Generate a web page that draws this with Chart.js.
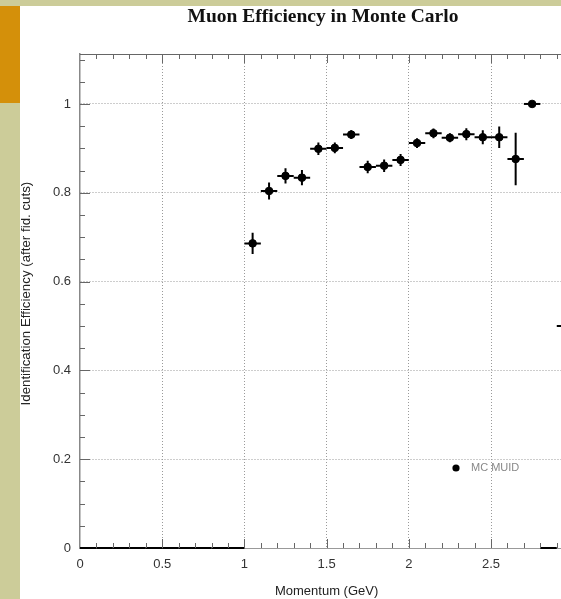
<!DOCTYPE html>
<html lang="en">
<head>
<meta charset="UTF-8">
<title>Muon Efficiency in Monte Carlo</title>
<script src="https://cdn.jsdelivr.net/npm/chart.js"></script>
<style>
  html, body { margin: 0; padding: 0; background: #fff; overflow: hidden; width: 561px; height: 599px; }
  .topbar { position: absolute; left: 0; top: 0; width: 561px; height: 6px; background: #cccc99; z-index: 2; }
  .sidebar { position: absolute; left: 0; top: 0; width: 20px; height: 599px; background: #cccc99; z-index: 2; }
  .accent { position: absolute; left: 0; top: 6px; width: 20px; height: 97px; background: #d4900a; z-index: 3; }
  h1 { position: absolute; top: 6px; left: 0; width: 646px; margin: 0; text-align: center;
       font: bold 19.5px/19.5px "Liberation Serif", "Times New Roman", serif; color: #111; z-index: 3; }
  .chart-box { position: absolute; left: 0; top: 0; width: 620px; height: 599px; }
</style>
</head>
<body>
<div class="topbar"></div>
<div class="sidebar"></div>
<div class="accent"></div>
<h1>Muon Efficiency in Monte Carlo</h1>
<div class="chart-box"><canvas id="effChart"></canvas></div>

<script>
// bin centres (GeV), 0.1 GeV wide bins
const momentum = [0.05, 0.15, 0.25, 0.35, 0.45, 0.55, 0.65, 0.75, 0.85, 0.95,
                  1.05, 1.15, 1.25, 1.35, 1.45, 1.55, 1.65, 1.75, 1.85, 1.95,
                  2.05, 2.15, 2.25, 2.35, 2.45, 2.55, 2.65, 2.75, 2.85, 2.95];
const efficiency = [0, 0, 0, 0, 0, 0, 0, 0, 0, 0,
                    0.686, 0.804, 0.838, 0.834, 0.899, 0.901, 0.931, 0.858, 0.861, 0.874,
                    0.912, 0.934, 0.924, 0.932, 0.925, 0.925, 0.876, 1.0, 0, 0.5];
const effError = [0, 0, 0, 0, 0, 0, 0, 0, 0, 0,
                  0.024, 0.019, 0.017, 0.017, 0.014, 0.012, 0.010, 0.014, 0.014, 0.0135,
                  0.011, 0.011, 0.010, 0.0135, 0.016, 0.024, 0.059, 0, 0, 0];
const binHalfWidth = 0.05;
const xTickLabels = [0, 0.5, 1, 1.5, 2, 2.5, 3];
const yTickLabels = [0, 0.2, 0.4, 0.6, 0.8, 1];
const legendLabel = 'MC MUID';

const fmt = v => String(+Number(v).toFixed(2));
const sans = '"Liberation Sans", Arial, sans-serif';

// error bars: horizontal = bin width, vertical = stat error
const errorBars = {
  id: 'errorBars',
  beforeDatasetsDraw(chart) {
    const { ctx, scales: { x, y } } = chart;
    ctx.save();
    ctx.strokeStyle = '#000';
    ctx.lineWidth = 2;
    momentum.forEach((m, i) => {
      const px = x.getPixelForValue(m);
      const py = y.getPixelForValue(efficiency[i]);
      ctx.beginPath();
      ctx.moveTo(x.getPixelForValue(m - binHalfWidth), py);
      ctx.lineTo(x.getPixelForValue(m + binHalfWidth), py);
      if (effError[i] > 0) {
        ctx.moveTo(px, y.getPixelForValue(efficiency[i] - effError[i]));
        ctx.lineTo(px, y.getPixelForValue(efficiency[i] + effError[i]));
      }
      ctx.stroke();
    });
    ctx.restore();
  }
};

// ROOT-style frame: top line and inward minor ticks, plus the legend entry
const frameTicks = {
  id: 'frameTicks',
  afterDraw(chart) {
    const { ctx, chartArea: a, scales: { x, y } } = chart;
    ctx.save();
    ctx.strokeStyle = '#666';
    ctx.lineWidth = 1;
    ctx.beginPath();
    ctx.moveTo(a.left, a.top + 0.5);
    ctx.lineTo(a.right, a.top + 0.5);
    for (let k = 1; k <= 30; k++) {
      const px = Math.round(x.getPixelForValue(k / 10)) + 0.5;
      const len = k % 5 === 0 ? 9 : 5;
      ctx.moveTo(px, a.bottom);
      ctx.lineTo(px, a.bottom - len);
      ctx.moveTo(px, a.top);
      ctx.lineTo(px, a.top + len);
    }
    for (let k = 1; k * 0.05 < y.max; k++) {
      const py = Math.round(y.getPixelForValue(k * 0.05)) + 0.5;
      const len = k % 4 === 0 ? 10 : 5;
      ctx.moveTo(a.left, py);
      ctx.lineTo(a.left + len, py);
    }
    ctx.stroke();

    const lx = a.left + 376, ly = a.top + 414;
    ctx.fillStyle = '#000';
    ctx.beginPath();
    ctx.arc(lx, ly, 3.6, 0, Math.PI * 2);
    ctx.fill();
    ctx.fillStyle = '#888';
    ctx.font = '11px ' + sans;
    ctx.textBaseline = 'middle';
    ctx.fillText(legendLabel, lx + 15, ly);
    ctx.restore();
  }
};

new Chart(document.getElementById('effChart'), {
  type: 'scatter',
  data: {
    datasets: [{
      label: legendLabel,
      data: momentum.map((m, i) => ({ x: m, y: efficiency[i] })),
      backgroundColor: '#000',
      borderColor: '#000',
      pointRadius: c => efficiency[c.dataIndex] > 0 ? 3.8 : 0,
      pointHoverRadius: 0,
      showLine: false
    }]
  },
  options: {
    responsive: true,
    maintainAspectRatio: false,
    animation: false,
    layout: { padding: { left: 0, top: 54, right: 46.8, bottom: 0 } },
    plugins: { legend: { display: false }, tooltip: { enabled: false } },
    scales: {
      x: {
        type: 'linear',
        min: 0,
        max: 3,
        afterFit: s => { s.height = 51; },
        afterBuildTicks: s => { s.ticks = xTickLabels.map(v => ({ value: v })); },
        ticks: { callback: fmt, color: '#333', padding: 9, maxRotation: 0,
                 font: { family: sans, size: 13 } },
        grid: { color: c => (c.tick && c.tick.value === 0) ? 'rgba(0,0,0,0)' : '#9a9a9a',
                drawTicks: false, lineWidth: 1 },
        border: { display: true, color: '#999', width: 1, dash: [1, 2] },
        title: { display: true, text: 'Momentum (GeV)', color: '#222',
                 padding: { top: 0, bottom: 0 },
                 font: { family: sans, size: 13 } }
      },
      y: {
        type: 'linear',
        min: 0,
        max: 1.1125,
        afterFit: s => { s.width = 80; },
        afterBuildTicks: s => { s.ticks = yTickLabels.map(v => ({ value: v })); },
        ticks: { callback: fmt, color: '#333', padding: 9,
                 font: { family: sans, size: 13 } },
        grid: { color: c => (c.tick && c.tick.value === 0) ? 'rgba(0,0,0,0)' : '#9a9a9a',
                drawTicks: false, lineWidth: 1 },
        border: { display: true, color: '#888', width: 1.5, dash: [1, 2] },
        title: { display: true, text: '\u00A0\u00A0\u00A0\u00A0Identification Efficiency (after fid. cuts)', color: '#222',
                 padding: { top: 18, bottom: 0 },
                 font: { family: sans, size: 13.3 } }
      }
    }
  },
  plugins: [errorBars, frameTicks]
});
</script>
</body>
</html>
